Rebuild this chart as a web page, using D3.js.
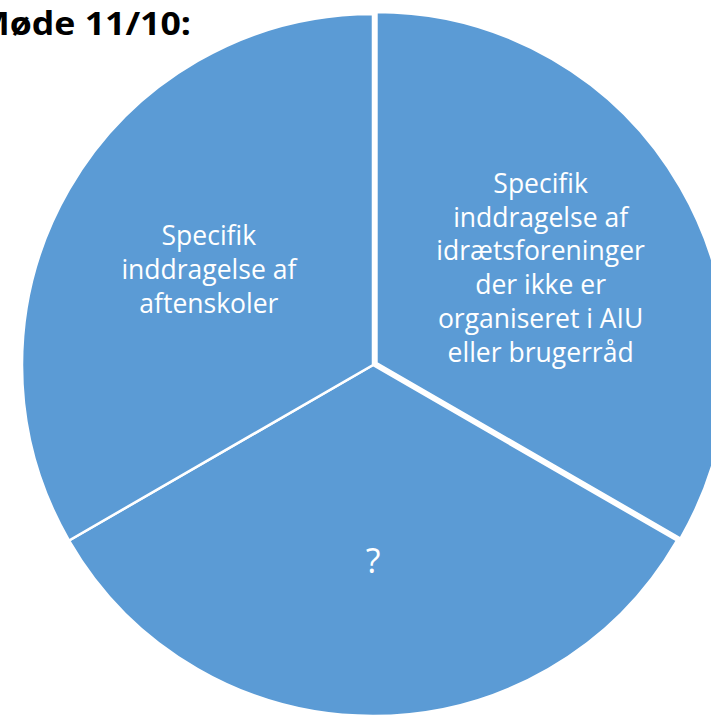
<!DOCTYPE html>
<html>
<head>
<meta charset="utf-8">
<script src="https://cdn.jsdelivr.net/npm/d3@7"></script>
<style>
    body { margin: 0; background: #fff; }
    svg { display: block; }
</style>
</head>
<body>
<div id="chart"></div>
<script>
// slices, clockwise from 12 o'clock
const categories = ['idraetsforeninger', 'ukendt', 'aftenskoler'];
const values = [1, 1, 1];
const labels = [
    ['Specifik', 'inddragelse af', 'idrætsforeninger', 'der ikke er', 'organiseret i AIU', 'eller brugerråd'],
    ['?'],
    ['Specifik', 'inddragelse af', 'aftenskoler']
];
const exploded = ['idraetsforeninger'];
const title = 'Møde 11/10:';

function drawPieChart(div) {
    let config = getConfiguration(div);

    let slices = d3.pie().sort(null).value(d => d.value)(
        categories.map((c, i) => ({ key: c, value: values[i], lines: labels[i] }))
    );

    drawSlices(config, slices);
    drawLabels(config, slices);
    drawTitle(config);
}

function getConfiguration(div) {
    let width = 711, height = 715;
    let svg = d3.select(div).append('svg')
        .attr('width', width)
        .attr('height', height);
    let radius = 351;
    let chart = svg.append('g')
        .attr('transform', `translate(373,365)`);
    return { svg, chart, width, height, radius };
}

function explodeOffset(d, dist) {
    if (!exploded.includes(d.data.key)) return [0, 0];
    let a = (d.startAngle + d.endAngle) / 2;
    return [Math.sin(a) * dist, -Math.cos(a) * dist];
}

function drawSlices(config, slices) {
    let { chart, radius } = config;
    let arc = d3.arc().innerRadius(0).outerRadius(radius);

    chart.append('g').attr('class', 'slices')
        .selectAll('path')
        .data(slices)
        .enter()
        .append('path')
        .attr('d', arc)
        .attr('transform', d => `translate(${explodeOffset(d, 4)})`)
        .attr('fill', '#5b9bd5')
        .attr('stroke', '#ffffff')
        .attr('stroke-width', 2.5)
        .attr('stroke-linejoin', 'miter');
}

function drawLabels(config, slices) {
    let { chart, radius } = config;
    let labelArc = d3.arc().innerRadius(radius * 0.54).outerRadius(radius * 0.54);
    let lineHeight = 33.8;

    let text = chart.append('g').attr('class', 'labels')
        .selectAll('text')
        .data(slices)
        .enter()
        .append('text')
        .attr('transform', d => {
            let [x, y] = labelArc.centroid(d);
            let [ox, oy] = explodeOffset(d, 4);
            return `translate(${x + ox},${y + oy})`;
        })
        .attr('text-anchor', 'middle')
        .attr('fill', '#ffffff')
        .style('font-family', '"Open Sans", "Noto Sans", sans-serif')
        // the lone "?" is set larger in the original
        .style('font-size', d => d.data.lines.length === 1 ? '34px' : '26.5px');

    text.selectAll('tspan')
        .data(d => d.data.lines.map((l, i, arr) => ({ l, i, n: arr.length })))
        .enter()
        .append('tspan')
        .attr('x', 0)
        .attr('y', d => d.n === 1 ? 18 : (d.i - (d.n - 1) / 2) * lineHeight + 9)
        .text(d => d.l);
}

function drawTitle(config) {
    let { svg } = config;
    // title runs off the left edge in the original, so anchor its end
    svg.append('text')
        .attr('transform', 'translate(191,35) scale(1.08,1)')
        .attr('text-anchor', 'end')
        .attr('fill', '#000000')
        .style('font-family', '"Open Sans", "Noto Sans", sans-serif')
        .style('font-weight', 'bold')
        .style('font-size', '33px')
        .text(title);
}

drawPieChart('#chart');
</script>
</body>
</html>
